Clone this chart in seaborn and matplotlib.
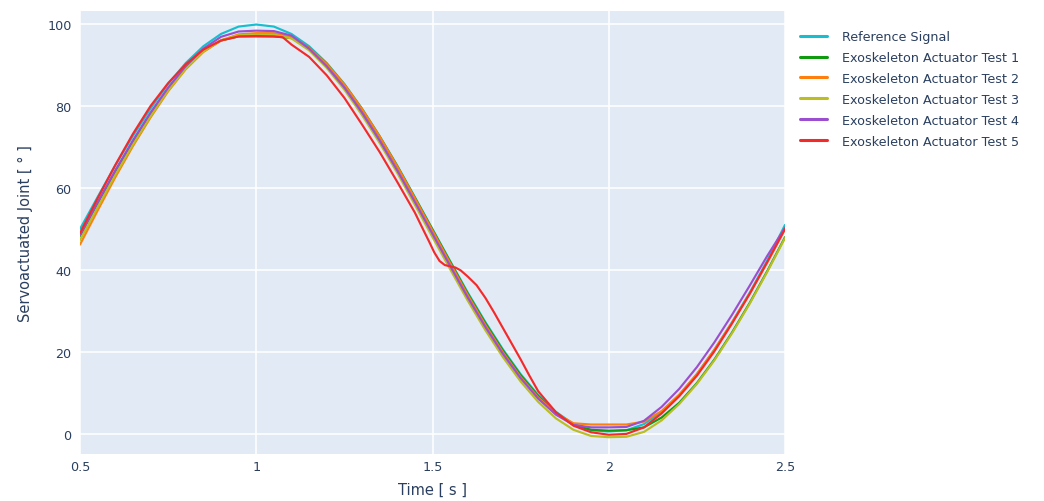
import numpy as np
import pandas as pd
import matplotlib
matplotlib.use("Agg")
import matplotlib.pyplot as plt
import seaborn as sns

# ---------------- data ----------------
time = [0.50, 0.55, 0.60, 0.65, 0.70, 0.75, 0.80, 0.85, 0.90, 0.95,
        1.00, 1.05, 1.10, 1.15, 1.20, 1.25, 1.30, 1.35, 1.40, 1.45,
        1.50, 1.55, 1.60, 1.65, 1.70, 1.75, 1.80, 1.85, 1.90, 1.95,
        2.00, 2.05, 2.10, 2.15, 2.20, 2.25, 2.30, 2.35, 2.40, 2.45, 2.50]

reference = [50.0, 57.8, 65.5, 72.7, 79.4, 85.4, 90.5, 94.6, 97.6, 99.4,
             99.9, 99.4, 97.6, 94.6, 90.5, 85.4, 79.4, 72.7, 65.5, 57.8,
             50.0, 42.2, 34.5, 27.3, 20.6, 14.6, 9.5, 5.4, 2.4, 0.9,
             0.6, 0.9, 2.4, 5.4, 9.5, 14.6, 20.6, 27.3, 34.5, 42.4, 51.0]

test1 = [48.3, 56.3, 64.0, 71.3, 78.0, 84.2, 89.4, 93.4, 96.0, 97.0,
         97.0, 97.0, 96.6, 94.2, 90.3, 85.2, 79.2, 72.5, 65.3, 57.6,
         49.8, 42.0, 34.2, 27.0, 20.3, 14.3, 9.2, 5.1, 2.2, 1.0,
         0.8, 0.9, 1.6, 4.0, 7.6, 12.4, 18.2, 24.8, 32.0, 39.8, 48.0]

test2 = [46.2, 54.5, 62.6, 70.2, 77.2, 83.6, 89.0, 93.2, 96.0, 97.5,
         97.8, 97.8, 97.0, 94.2, 90.3, 85.3, 79.3, 72.6, 65.3, 57.5,
         49.6, 41.7, 33.9, 26.6, 19.9, 13.9, 8.9, 5.0, 2.6, 2.3,
         2.3, 2.3, 3.0, 5.6, 9.6, 14.6, 20.6, 27.2, 34.3, 41.9, 50.0]

test3 = [47.3, 55.3, 63.2, 70.6, 77.5, 83.8, 89.1, 93.3, 96.1, 97.3,
         97.4, 97.4, 96.5, 93.6, 89.3, 84.0, 77.8, 71.0, 63.7, 55.9,
         48.0, 40.2, 32.5, 25.3, 18.7, 12.8, 7.8, 3.8, 1.0, -0.5,
         -0.8, -0.7, 0.5, 3.3, 7.3, 12.2, 18.0, 24.6, 31.8, 39.6, 47.8]

test4 = [48.5, 56.5, 64.3, 71.6, 78.4, 84.5, 89.8, 94.0, 96.9, 98.2,
         98.4, 98.3, 97.2, 94.0, 89.7, 84.5, 78.4, 71.6, 64.3, 56.6,
         48.8, 41.0, 33.3, 26.1, 19.5, 13.6, 8.6, 4.7, 2.2, 1.6,
         1.6, 1.7, 3.2, 6.6, 11.0, 16.3, 22.4, 29.1, 36.2, 43.5, 50.3]

time5 = [0.50, 0.55, 0.60, 0.65, 0.70, 0.75, 0.80, 0.85, 0.90, 0.95,
         1.00, 1.05, 1.075, 1.10, 1.15, 1.20, 1.25, 1.30, 1.35, 1.40,
         1.45, 1.475, 1.49, 1.505, 1.52, 1.535, 1.55, 1.565, 1.58, 1.60,
         1.625, 1.65, 1.675, 1.70, 1.725, 1.75, 1.775, 1.80, 1.85, 1.90,
         1.95, 2.00, 2.05, 2.10, 2.15, 2.20, 2.25, 2.30, 2.35, 2.40,
         2.45, 2.50]
test5 = [49.0, 57.5, 65.6, 73.2, 80.0, 85.6, 90.2, 93.8, 96.0, 97.0,
         97.1, 97.0, 96.8, 95.0, 92.0, 87.5, 82.0, 75.5, 68.8, 61.5,
         54.0, 49.6, 47.0, 44.3, 42.2, 41.2, 40.9, 40.6, 39.9, 38.4,
         36.3, 33.2, 29.6, 25.8, 22.0, 18.2, 14.2, 10.4, 5.3, 2.0,
         0.4, -0.2, 0.0, 1.6, 5.0, 9.2, 14.2, 20.2, 27.0, 34.2,
         42.0, 50.0]

labels = ["Reference Signal", "Exoskeleton Actuator Test 1",
          "Exoskeleton Actuator Test 2", "Exoskeleton Actuator Test 3",
          "Exoskeleton Actuator Test 4", "Exoskeleton Actuator Test 5"]
colors = ["#17BECF", "#109A10", "#FF7F0E", "#BCBD22", "#9B4FD0", "#F42A2A"]

x_ticks = [0.5, 1, 1.5, 2, 2.5]
x_tick_labels = ["0.5", "1", "1.5", "2", "2.5"]
y_ticks = [0, 20, 40, 60, 80, 100]

# ---------------- build long-form table ----------------
frames = []
for lab, tt, vv in zip(labels,
                       [time, time, time, time, time, time5],
                       [reference, test1, test2, test3, test4, test5]):
    frames.append(pd.DataFrame({"t": tt, "v": vv, "series": lab}))
df = pd.concat(frames, ignore_index=True)

# ---------------- plot ----------------
sns.set_theme(style="darkgrid")
plt.rcParams["font.family"] = ["DejaVu Sans"]
text_col = "#2A3F5F"

fig = plt.figure(figsize=(10.44, 5.02), dpi=100)
ax = fig.add_axes([80 / 1044, 1 - 455 / 502, (785 - 80) / 1044, (455 - 12) / 502])
ax.set_facecolor("#E2EBF5")

sns.lineplot(data=df, x="t", y="v", hue="series", hue_order=labels,
             palette=colors, sort=False, estimator=None, linewidth=1.55,
             ax=ax)

ax.set_xlim(0.5, 2.5)
ax.set_ylim(-4.9, 103.2)
ax.set_xticks(x_ticks)
ax.set_xticklabels(x_tick_labels)
ax.set_yticks(y_ticks)
ax.grid(True, color="white", linewidth=1.1)
for s in ax.spines.values():
    s.set_visible(False)
ax.tick_params(axis="both", length=0, labelsize=9.2, colors=text_col)
ax.tick_params(axis="x", pad=4)
ax.tick_params(axis="y", pad=6)

ax.set_xlabel("Time [ s ]", fontsize=10.5, color=text_col, labelpad=7)
ax.set_ylabel("Servoactuated Joint [ ° ]", fontsize=10.5, color=text_col, labelpad=10)

handles, labs = ax.get_legend_handles_labels()
ax.get_legend().remove()
leg = fig.legend(handles, labs, loc="upper left",
                 bbox_to_anchor=(795 / 1044, 1 - 26 / 502),
                 frameon=False, fontsize=9.2, handlelength=2.1,
                 handletextpad=1.2, labelspacing=0.62, borderaxespad=0)
for t in leg.get_texts():
    t.set_color(text_col)
for h in leg.get_lines():
    h.set_linewidth(2.2)

fig.savefig("out.png", dpi=100, facecolor="white")
